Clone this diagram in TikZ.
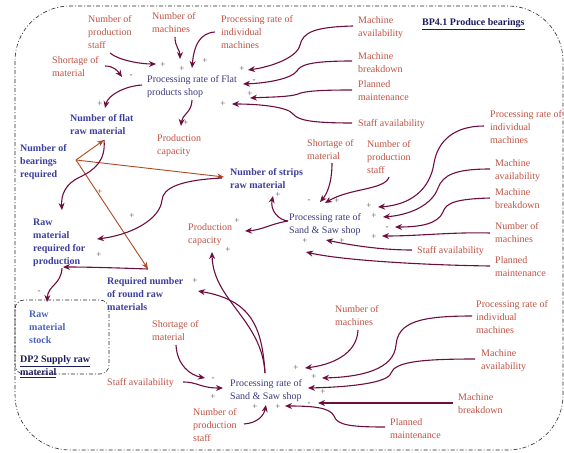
\documentclass[tikz,border=0pt]{standalone}
\usepackage{fontspec}
\setmainfont{Liberation Serif}
\usetikzlibrary{arrows.meta}
\definecolor{brn}{RGB}{190,82,66}
\definecolor{vblue}{RGB}{60,62,158}
\definecolor{lblue}{RGB}{72,98,188}
\definecolor{ptext}{RGB}{58,58,125}
\definecolor{navy}{RGB}{28,28,92}
\definecolor{maro}{RGB}{110,14,64}
\definecolor{rust}{RGB}{176,72,32}
\definecolor{sgray}{RGB}{85,85,85}
\tikzset{
  lab/.style={anchor=north west, inner sep=0pt, align=left, yshift=-1.5pt, text=brn, font=\fontsize{10}{13}\selectfont},
  var/.style={lab, text=vblue, font=\fontsize{10}{13}\selectfont\bfseries},
  stock/.style={lab, text=lblue, font=\fontsize{10}{13}\selectfont\bfseries},
  proc/.style={lab, text=ptext},
  title/.style={lab, text=navy, font=\fontsize{10}{13}\selectfont\bfseries},
  sgn/.style={inner sep=0pt, text=sgray, font=\fontsize{9}{9}\selectfont},
  arr/.style={draw=maro, line width=1.1pt, -{Stealth[length=7pt,width=6pt]}},
  rarr/.style={draw=rust, line width=0.9pt, -{Stealth[length=7pt,width=5.5pt]}},
  border/.style={draw=black!85, line width=0.6pt, dash pattern=on 4pt off 2pt on 1pt off 2pt}
}
\begin{document}
\begin{tikzpicture}[x=1pt,y=-1pt]
\useasboundingbox (0,0) rectangle (564,452);
% borders
\draw[border, rounded corners=55pt] (15,6) rectangle (563,450);
\draw[border, rounded corners=9pt] (15,300) rectangle (109,374);

% ---------- top: flat products shop ----------
\node[lab] (nps1) at (88,14) {Number of\\production\\staff};
\node[lab] (nm1) at (152,11) {Number of\\machines};
\node[lab] (pri1) at (221,14) {Processing rate of\\individual\\machines};
\node[lab] (sm1) at (52,55) {Shortage of\\material};
\node[proc] (pf) at (147,74) {Processing rate of Flat\\products shop};
\node[lab] (ma1) at (358,15) {Machine\\availability};
\node[lab] (mb1) at (358,51) {Machine\\breakdown};
\node[lab] (pm1) at (358,79) {Planned\\maintenance};
\node[lab] (sa1) at (358,118) {Staff availability};
\node[title] (bp) at (422,17) {\underline{BP4.1 Produce bearings}};
\node[var] (nfr) at (70,113) {Number of flat\\raw material};
\node[lab] (pc1) at (157,133) {Production\\capacity};

% ---------- middle ----------
\node[var] (nbr) at (20,143) {Number of\\bearings\\required};
\node[var] (nsr) at (230,167) {Number of strips\\raw material};
\node[lab] (sm2) at (307,138) {Shortage of\\material};
\node[lab] (nps2) at (367,139) {Number of\\production\\staff};
\node[lab] (pri2) at (490,109) {Processing rate of\\individual\\machines};
\node[lab] (ma2) at (495,158) {Machine\\availability};
\node[lab] (mb2) at (495,187) {Machine\\breakdown};
\node[lab] (nm2) at (495,221) {Number of\\machines};
\node[lab] (sa2) at (417,245) {Staff availability};
\node[lab] (pm2) at (495,255) {Planned\\maintenance};
\node[proc] (ps1) at (289,212) {Processing rate of\\Sand \& Saw shop};
\node[lab] (pc2) at (188,222) {Production\\capacity};
\node[var] (rmr) at (33,217) {Raw\\material\\required for\\production};
\node[var] (rnr) at (107,276) {Required number\\of round raw\\materials};
\node[stock] (rms) at (29,309) {Raw\\material\\stock};
\node[title] (dp) at (20,354) {\underline{DP2 Supply raw}\\\underline{material}};

% ---------- bottom ----------
\node[lab] (sm3) at (152,319) {Shortage of\\material};
\node[lab] (sa3) at (107,377) {Staff availability};
\node[proc] (ps2) at (230,378) {Processing rate of\\Sand \& Saw shop};
\node[lab] (nps3) at (193,407) {Number of\\production\\staff};
\node[lab] (nm3) at (335,304) {Number of\\machines};
\node[lab] (pri3) at (476,299) {Processing rate of\\individual\\machines};
\node[lab] (ma3) at (481,348) {Machine\\availability};
\node[lab] (mb3) at (458,392) {Machine\\breakdown};
\node[lab] (pm3) at (390,417) {Planned\\maintenance};

% ---------- signs ----------
\foreach \x/\y/\s [count=\i] in {163/65/+,182/69/+,205/61/+,242/69/+,254/81/-,250/94/+,223/104/+,131/76/-,100/104/+,186/123/+,
  100/192/+,132/216/+,237/221/+,228/250/+,99/255/+,195/281/+,278/195/+,309/201/-,337/201/+,369/206/+,374/216/+,387/228/-,374/237/+,305/241/+,342/241/+,39/292/-,
  213/379/-,213/397/+,255/407/+,278/407/+,296/368/+,314/377/+,323/392/+,309/404/-}
  \node[sgn] (sg\i) at (\x,\y) {\s};

% ---------- arrows: top ----------
\draw[arr] (110,53) .. controls (118,60) and (140,64) .. (156,64);
\draw[arr] (175,37) .. controls (175,47) and (180,50) .. (180,59);
\draw[arr] (215,32) .. controls (200,33) and (194,45) .. (192,68);
\draw[arr] (353,26) .. controls (315,27) and (303,32) .. (300,45) .. controls (297,58) and (270,67) .. (248,70);
\draw[arr] (352,61) .. controls (310,61) and (300,65) .. (297,71) .. controls (292,78) and (270,83) .. (243,84);
\draw[arr] (352,90) .. controls (320,90) and (305,91) .. (298,94) .. controls (290,97) and (270,97) .. (250,98);
\draw[arr] (352,123) .. controls (310,123) and (298,120) .. (293,114) .. controls (288,107) and (260,104) .. (232,104);
\draw[arr] (142,85) .. controls (125,86) and (108,95) .. (105,108);
\draw[arr] (192,100) .. controls (192,112) and (182,115) .. (181,126);
\draw[arr] (105,66) .. controls (113,66) and (117,70) .. (122,77);

% ---------- arrows: number of bearings required ----------
\draw[rarr] (76,160) -- (104,140);
\draw[rarr] (76,160) -- (224,177);
\draw[rarr] (76,160) -- (148,269);

% ---------- arrows: raw material chain ----------
\draw[arr] (104,140) .. controls (106,160) and (95,170) .. (80,177) .. controls (65,184) and (61,195) .. (62,210);
\draw[arr] (222,178) .. controls (180,180) and (163,188) .. (162,200) .. controls (160,220) and (130,235) .. (97,239);
\draw[arr] (148,269) .. controls (120,268) and (90,267) .. (63,267);
\draw[arr] (62,268) .. controls (61,285) and (48,285) .. (47,302);

% ---------- arrows: middle sand & saw shop ----------
\draw[arr] (288,221) .. controls (278,220) and (270,210) .. (273,196);
\draw[arr] (288,221) .. controls (270,224) and (262,230) .. (245,231);
\draw[arr] (332,163) .. controls (332,185) and (326,195) .. (320,202);
\draw[arr] (389,177) .. controls (385,190) and (350,188) .. (325,203);
\draw[arr] (484,126) .. controls (455,126) and (438,140) .. (434,163) .. controls (430,190) and (410,205) .. (378,207);
\draw[arr] (490,169) .. controls (455,169) and (443,175) .. (438,188) .. controls (432,205) and (410,215) .. (383,217);
\draw[arr] (490,198) .. controls (455,199) and (446,203) .. (443,212) .. controls (438,224) and (420,227) .. (395,227);
\draw[arr] (490,233) .. controls (450,232) and (420,236) .. (382,236);
\draw[arr] (412,250) .. controls (380,250) and (350,245) .. (326,240);
\draw[arr] (490,266) .. controls (420,265) and (340,260) .. (306,252);

% ---------- arrows: bottom sand & saw shop ----------
\draw[arr] (265,373) .. controls (262,320) and (213,300) .. (212,252);
\draw[arr] (265,373) .. controls (262,325) and (250,300) .. (198,291);
\draw[arr] (176,345) .. controls (177,365) and (190,375) .. (205,378);
\draw[arr] (183,382) .. controls (198,382) and (200,388) .. (223,388);
\draw[arr] (244,424) .. controls (258,423) and (264,415) .. (266,405);
\draw[arr] (358,330) .. controls (357,355) and (330,365) .. (305,368);
\draw[arr] (472,316) .. controls (420,316) and (398,322) .. (396,345) .. controls (394,370) and (360,377) .. (322,378);
\draw[arr] (475,359) .. controls (420,359) and (395,362) .. (391,373) .. controls (388,383) and (350,387) .. (308,388);
\draw[arr] (453,403) -- (318,403);
\draw[arr] (385,427) .. controls (350,427) and (337,425) .. (334,416) .. controls (330,407) and (310,406) .. (285,406);
\end{tikzpicture}
\end{document}
